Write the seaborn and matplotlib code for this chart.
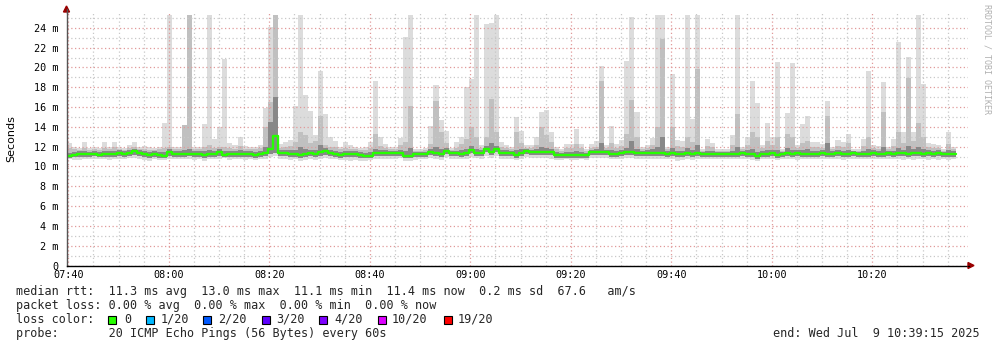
import matplotlib
matplotlib.use("Agg")
import matplotlib.pyplot as plt
import numpy as np
import pandas as pd
import seaborn as sns
from matplotlib.ticker import MultipleLocator, FixedLocator
from matplotlib.patches import Rectangle, Polygon
from matplotlib.lines import Line2D

sns.set_theme(style="white")
plt.rcParams["font.family"] = ["DejaVu Sans Mono", "DejaVu Sans"]

# ---------------- data (milliseconds, one value per minute from 07:40) ----------------
rtt_median = [
    11.1, 11.2, 11.3, 11.3, 11.3, 11.3, 11.2, 11.3, 11.3, 11.3,
    11.4, 11.3, 11.4, 11.6, 11.4, 11.3, 11.2, 11.3, 11.2, 11.1,
    11.5, 11.3, 11.3, 11.3, 11.3, 11.3, 11.3, 11.2, 11.3, 11.3,
    11.5, 11.2, 11.3, 11.3, 11.3, 11.3, 11.3, 11.2, 11.3, 11.4,
    11.8, 13.1, 11.4, 11.4, 11.3, 11.3, 11.2, 11.3, 11.4, 11.3,
    11.5, 11.6, 11.4, 11.3, 11.2, 11.3, 11.3, 11.3, 11.2, 11.1,
    11.1, 11.4, 11.4, 11.4, 11.4, 11.4, 11.4, 11.1, 11.1, 11.3,
    11.3, 11.3, 11.5, 11.4, 11.3, 11.6, 11.4, 11.4, 11.3, 11.4,
    11.7, 11.4, 11.4, 11.8, 11.5, 11.8, 11.4, 11.4, 11.4, 11.2,
    11.4, 11.6, 11.5, 11.5, 11.5, 11.5, 11.5, 11.2, 11.2, 11.2,
    11.2, 11.2, 11.2, 11.2, 11.5, 11.5, 11.5, 11.5, 11.3, 11.3,
    11.4, 11.5, 11.5, 11.4, 11.4, 11.4, 11.4, 11.4, 11.4, 11.3,
    11.4, 11.3, 11.3, 11.4, 11.3, 11.4, 11.3, 11.3, 11.3, 11.3,
    11.3, 11.3, 11.3, 11.3, 11.4, 11.3, 11.3, 11.1, 11.3, 11.3,
    11.4, 11.2, 11.3, 11.4, 11.3, 11.4, 11.3, 11.3, 11.3, 11.3,
    11.4, 11.3, 11.3, 11.4, 11.3, 11.3, 11.4, 11.3, 11.3, 11.3,
    11.4, 11.3, 11.3, 11.4, 11.3, 11.4, 11.4, 11.3, 11.4, 11.4,
    11.3, 11.4, 11.3, 11.4, 11.3, 11.3, 11.3,
]
rtt_max = [
    12.4, 12.0, 11.9, 12.5, 11.9, 12.0, 11.9, 12.5, 12.0, 12.5,
    12.0, 11.9, 12.2, 12.5, 12.0, 12.1, 12.0, 11.9, 12.0, 14.4,
    25.3, 12.0, 12.0, 14.2, 25.3, 12.0, 12.0, 14.3, 25.3, 12.8,
    14.0, 20.9, 12.4, 12.2, 13.0, 12.1, 12.0, 12.0, 12.2, 15.9,
    24.1, 25.3, 12.3, 12.5, 12.7, 16.1, 25.3, 17.2, 15.6, 13.2,
    19.6, 15.3, 13.0, 12.6, 12.0, 12.5, 12.2, 12.0, 11.9, 12.0,
    12.5, 18.6, 13.0, 12.3, 12.0, 12.0, 12.9, 23.1, 25.3, 11.8,
    11.8, 11.9, 14.1, 18.2, 14.7, 13.6, 11.9, 12.5, 13.0, 18.0,
    18.8, 25.3, 12.2, 24.4, 24.5, 25.3, 12.5, 12.2, 12.0, 15.0,
    13.6, 12.2, 12.2, 13.0, 15.5, 15.7, 13.5, 12.0, 11.8, 12.3,
    12.3, 13.8, 12.3, 11.8, 12.3, 12.6, 20.1, 12.2, 14.1, 12.3,
    12.7, 20.7, 25.1, 15.5, 12.0, 12.2, 12.9, 25.3, 25.3, 12.0,
    19.3, 12.7, 12.6, 25.3, 14.8, 25.3, 11.8, 12.8, 12.4, 11.8,
    11.8, 11.8, 13.2, 25.3, 12.0, 13.0, 18.6, 16.4, 12.2, 14.4,
    13.0, 20.6, 11.8, 15.4, 20.5, 12.2, 14.3, 15.1, 12.5, 12.5,
    12.3, 16.6, 12.0, 12.7, 12.5, 13.3, 11.8, 11.8, 12.8, 19.6,
    12.2, 12.1, 18.5, 12.0, 12.8, 22.6, 13.5, 21.1, 13.5, 25.3,
    18.3, 12.4, 12.3, 12.2, 11.8, 13.5, 12.0,
]
rtt_p90 = [
    11.9, 11.8, 11.7, 11.9, 11.7, 11.8, 11.7, 11.9, 11.8, 12.0,
    11.8, 11.7, 11.9, 12.0, 11.8, 11.8, 11.7, 11.7, 11.8, 11.9,
    12.0, 11.8, 11.8, 14.2, 25.3, 11.8, 11.8, 12.0, 12.2, 11.9,
    12.0, 12.0, 11.9, 11.8, 12.1, 11.8, 11.8, 11.8, 11.9, 14.0,
    16.5, 25.3, 11.9, 12.0, 12.1, 12.5, 13.5, 13.2, 12.4, 12.6,
    15.1, 12.2, 12.0, 12.0, 11.8, 11.9, 11.8, 11.8, 11.7, 11.7,
    11.9, 13.3, 12.1, 11.9, 11.8, 11.8, 12.2, 12.5, 16.1, 11.6,
    11.6, 11.7, 12.3, 16.6, 13.5, 12.4, 11.7, 11.9, 12.3, 12.8,
    14.0, 13.0, 11.9, 13.0, 16.8, 13.5, 12.0, 11.9, 11.8, 13.5,
    12.4, 11.9, 11.9, 12.2, 14.0, 13.2, 12.5, 11.8, 11.6, 11.9,
    11.9, 12.3, 11.9, 11.6, 11.9, 12.0, 18.6, 11.9, 12.4, 11.9,
    12.1, 13.3, 16.7, 13.0, 11.8, 11.9, 12.2, 14.0, 22.9, 11.8,
    14.0, 12.1, 12.0, 13.0, 12.5, 19.8, 11.6, 12.1, 12.0, 11.6,
    11.6, 11.6, 12.2, 15.3, 11.8, 12.2, 13.5, 13.0, 11.9, 12.6,
    12.2, 13.0, 11.6, 13.3, 13.0, 11.9, 12.4, 12.6, 12.0, 12.0,
    11.9, 15.1, 11.8, 12.1, 12.0, 12.4, 11.6, 11.6, 12.1, 13.0,
    11.9, 11.8, 15.5, 11.8, 12.1, 13.5, 12.4, 18.9, 12.6, 14.4,
    13.0, 12.0, 11.9, 11.9, 11.6, 12.3, 11.8,
]
rtt_p75 = [
    11.4, 11.5, 11.6, 11.6, 11.5, 11.6, 11.5, 11.6, 11.6, 11.6,
    11.7, 11.6, 11.7, 11.8, 11.7, 11.6, 11.5, 11.6, 11.5, 11.5,
    11.8, 11.6, 11.6, 11.7, 11.8, 11.6, 11.6, 11.6, 11.7, 11.6,
    11.8, 11.6, 11.6, 11.6, 11.7, 11.6, 11.6, 11.5, 11.6, 12.0,
    14.5, 17.0, 11.7, 11.7, 11.7, 11.7, 12.0, 11.8, 11.7, 11.7,
    12.2, 11.9, 11.7, 11.6, 11.5, 11.6, 11.6, 11.6, 11.5, 11.4,
    11.5, 11.8, 11.7, 11.7, 11.6, 11.6, 11.7, 11.6, 11.9, 11.5,
    11.5, 11.5, 11.8, 12.0, 11.8, 11.9, 11.6, 11.6, 11.7, 11.8,
    12.1, 11.8, 11.7, 12.1, 12.4, 12.1, 11.7, 11.7, 11.6, 11.7,
    11.8, 11.8, 11.7, 11.8, 12.0, 11.9, 11.8, 11.5, 11.4, 11.5,
    11.5, 11.6, 11.5, 11.4, 11.7, 11.8, 12.4, 11.7, 11.7, 11.6,
    11.7, 11.9, 12.6, 11.8, 11.6, 11.7, 11.8, 12.0, 13.0, 11.6,
    11.9, 11.6, 11.6, 11.9, 11.7, 12.2, 11.5, 11.6, 11.6, 11.5,
    11.5, 11.5, 11.6, 12.0, 11.6, 11.7, 11.8, 11.5, 11.6, 11.7,
    11.7, 11.7, 11.5, 11.9, 11.7, 11.7, 11.7, 11.8, 11.6, 11.6,
    11.7, 12.4, 11.6, 11.7, 11.6, 11.7, 11.6, 11.5, 11.6, 11.8,
    11.7, 11.6, 12.0, 11.6, 11.6, 11.9, 11.7, 12.1, 11.8, 12.0,
    11.8, 11.7, 11.6, 11.7, 11.5, 11.7, 11.6,
]
rtt_p25 = [
    10.9, 11.0, 11.0, 11.0, 11.0, 11.1, 11.0, 11.0, 11.0, 11.0,
    11.1, 11.0, 11.1, 11.2, 11.1, 11.0, 10.9, 11.0, 10.9, 10.9,
    11.1, 11.0, 11.0, 11.0, 11.1, 11.0, 11.0, 10.9, 11.0, 11.0,
    11.1, 11.0, 11.0, 11.0, 11.0, 11.0, 11.0, 10.9, 11.0, 11.1,
    11.3, 11.4, 11.1, 11.1, 11.0, 11.0, 10.9, 11.0, 11.1, 11.0,
    11.1, 11.2, 11.1, 11.0, 10.9, 11.0, 11.0, 11.0, 10.9, 10.9,
    10.9, 11.1, 11.1, 11.1, 11.1, 11.1, 11.1, 10.9, 10.9, 11.0,
    11.0, 11.0, 11.2, 11.1, 11.0, 11.3, 11.1, 11.1, 11.0, 11.1,
    11.4, 11.1, 11.1, 11.5, 11.2, 11.5, 11.1, 11.1, 11.1, 10.9,
    11.1, 11.3, 11.2, 11.2, 11.2, 11.2, 11.2, 10.9, 10.9, 10.9,
    10.9, 10.9, 10.9, 10.9, 11.2, 11.2, 11.2, 11.2, 11.0, 11.0,
    11.1, 11.2, 11.2, 11.1, 11.1, 11.1, 11.1, 11.1, 11.1, 11.0,
    11.1, 11.0, 11.0, 11.1, 11.0, 11.1, 11.0, 11.0, 11.0, 11.0,
    11.0, 11.0, 11.0, 11.0, 11.1, 11.0, 11.0, 10.8, 11.0, 11.0,
    11.1, 10.9, 11.0, 11.1, 11.0, 11.1, 11.0, 11.0, 11.0, 11.0,
    11.1, 11.0, 11.0, 11.1, 11.0, 11.0, 11.1, 11.0, 11.0, 11.0,
    11.1, 11.0, 11.0, 11.1, 11.0, 11.1, 11.1, 11.0, 11.1, 11.1,
    11.0, 11.1, 11.0, 11.1, 11.0, 11.0, 11.0,
]
rtt_min = [
    10.8, 10.7, 10.7, 10.8, 10.8, 10.8, 10.8, 10.8, 10.7, 10.8,
    10.8, 10.8, 10.9, 10.9, 10.8, 10.7, 10.6, 10.8, 10.7, 10.7,
    10.8, 10.8, 10.8, 10.8, 10.8, 10.7, 10.8, 10.6, 10.8, 10.8,
    10.8, 10.9, 10.7, 10.8, 10.8, 10.7, 10.8, 10.7, 10.8, 10.8,
    11.0, 11.1, 10.8, 10.8, 10.7, 10.8, 10.6, 10.7, 10.8, 10.7,
    10.8, 10.9, 10.8, 10.8, 10.7, 10.7, 10.6, 10.7, 10.6, 10.6,
    10.7, 10.8, 10.8, 10.8, 10.8, 10.8, 10.9, 10.6, 10.6, 10.7,
    10.8, 10.8, 10.9, 10.8, 10.7, 11.0, 10.8, 10.8, 10.8, 10.8,
    11.0, 10.9, 10.8, 11.1, 10.9, 11.1, 10.8, 10.8, 10.8, 10.7,
    10.8, 11.0, 10.9, 10.9, 10.9, 10.9, 10.8, 10.7, 10.7, 10.8,
    10.7, 10.7, 10.8, 10.7, 10.9, 10.9, 10.9, 10.9, 10.8, 10.8,
    10.8, 10.9, 10.9, 10.8, 10.8, 10.8, 10.8, 10.8, 10.8, 10.8,
    10.8, 10.6, 10.7, 10.8, 10.7, 10.8, 10.8, 10.8, 10.8, 10.8,
    10.8, 10.8, 10.8, 10.8, 10.8, 10.8, 10.7, 10.6, 10.8, 10.8,
    10.8, 10.7, 10.8, 10.8, 10.8, 10.7, 10.8, 10.8, 10.8, 10.8,
    10.8, 10.8, 10.8, 10.8, 10.7, 10.8, 10.8, 10.8, 10.8, 10.8,
    10.8, 10.8, 10.8, 10.8, 10.8, 10.8, 10.7, 10.8, 10.7, 10.8,
    10.8, 10.7, 10.8, 10.7, 10.8, 10.7, 10.8,
]

x_tick_minutes = [0, 20, 40, 60, 80, 100, 120, 140, 160]
x_tick_labels = ["07:40", "08:00", "08:20", "08:40", "09:00", "09:20", "09:40", "10:00", "10:20"]
y_ticks = [0, 2, 4, 6, 8, 10, 12, 14, 16, 18, 20, 22, 24]
y_tick_labels = ["0", "2 m", "4 m", "6 m", "8 m", "10 m", "12 m", "14 m", "16 m",
                 "18 m", "20 m", "22 m", "24 m"]

loss_labels = ["0", "1/20", "2/20", "3/20", "4/20", "10/20", "19/20"]
loss_colors = ["#26ff00", "#00b8ff", "#0059ff", "#5e00ff", "#7e00ff", "#dd00ff", "#ff0000"]

line_rtt = "median rtt:  11.3 ms avg  13.0 ms max  11.1 ms min  11.4 ms now  0.2 ms sd  67.6   am/s"
line_loss = "packet loss: 0.00 % avg  0.00 % max  0.00 % min  0.00 % now"
line_color = "loss color:"
line_probe = "probe:       20 ICMP Echo Pings (56 Bytes) every 60s"
line_end = "end: Wed Jul  9 10:39:15 2025"
y_title = "Seconds"
watermark = "RRDTOOL / TOBI OETIKER"

# ---------------- figure ----------------
W, H = 997, 347
fig = plt.figure(figsize=(W / 100, H / 100), dpi=100)
fig.patch.set_facecolor("white")


def fx(px):
    return px / W


def fy(py):
    return 1 - py / H


ax = fig.add_axes([fx(66.5), fy(265.5), fx(968) - fx(66.5), fy(13) - fy(265.5)])
ax.set_facecolor("white")

n = len(rtt_median)
shift = -0.32
df = pd.DataFrame({
    "t": np.arange(n) + shift,
    "median": rtt_median, "max": rtt_max, "p90": rtt_p90,
    "p75": rtt_p75, "p25": rtt_p25, "min": rtt_min,
})
# extended edges for step drawing
ext = pd.concat([df, df.iloc[[-1]].assign(t=n + shift)], ignore_index=True)

ax.fill_between(ext["t"], ext["min"], ext["max"], step="post", color="#dcdcdc", linewidth=0, zorder=1)
ax.fill_between(ext["t"], ext["p25"], ext["p90"], step="post", color="#c0c0c0", linewidth=0, zorder=2)
ax.fill_between(ext["t"], ext["p25"], ext["p75"], step="post", color="#888888", linewidth=0, zorder=3)

sns.lineplot(data=ext, x="t", y="median", ax=ax, drawstyle="steps-post", color="#26ff00",
             linewidth=1.7, estimator=None, sort=False, legend=False, zorder=5)

ax.set_xlim(-0.35, 179.05)
ax.set_ylim(0, 25.5)

ax.xaxis.set_major_locator(FixedLocator(x_tick_minutes))
ax.set_xticklabels(x_tick_labels)
ax.xaxis.set_minor_locator(MultipleLocator(5))
ax.yaxis.set_major_locator(FixedLocator(y_ticks))
ax.set_yticklabels(y_tick_labels)
ax.yaxis.set_minor_locator(MultipleLocator(1))

ax.grid(which="minor", color="#c8c8c8", linestyle=(0, (1, 2)), linewidth=0.9, zorder=6)
ax.grid(which="major", color="#e09a9a", linestyle=(0, (1, 2)), linewidth=0.9, zorder=6)
ax.set_axisbelow(False)

ax.tick_params(axis="both", which="both", labelsize=7.3, colors="#000000", length=0, pad=3)
ax.tick_params(axis="y", pad=6)
for lab in ax.get_xticklabels() + ax.get_yticklabels():
    lab.set_family("DejaVu Sans Mono")

ax.set_xlabel("")
ax.set_ylabel("")
for s in ["top", "right"]:
    ax.spines[s].set_visible(False)
ax.spines["left"].set_color("#555555")
ax.spines["bottom"].set_color("#000000")
ax.spines["left"].set_linewidth(1.0)
ax.spines["bottom"].set_linewidth(1.0)
ax.spines["left"].set_zorder(7)
ax.spines["bottom"].set_zorder(7)

# axis extensions with arrows
fig.add_artist(Line2D([fx(66.5), fx(66.5)], [fy(13), fy(9)], color="#555555", lw=1.0))
fig.add_artist(Polygon([[fx(63.5), fy(12)], [fx(69.5), fy(12)], [fx(66.5), fy(6)]],
                       closed=True, color="#990000", transform=fig.transFigure))
fig.add_artist(Line2D([fx(968), fx(969)], [fy(265.5), fy(265.5)], color="#000000", lw=1.0))
fig.add_artist(Polygon([[fx(968), fy(262.5)], [fx(968), fy(268.5)], [fx(974), fy(265.5)]],
                       closed=True, color="#990000", transform=fig.transFigure))

# y title and watermark
fig.text(fx(11), fy(139), y_title, rotation=90, ha="center", va="center",
         fontsize=8, family="DejaVu Sans", color="#000000")
fig.text(fx(987), fy(4), watermark, rotation=270, ha="center", va="top",
         fontsize=6, family="DejaVu Sans Mono", color="#b0b0b0")

# legend block
fs = 8.5
fig.text(fx(16), fy(291.7), line_rtt, ha="left", va="center", fontsize=fs, family="DejaVu Sans Mono")
fig.text(fx(16), fy(305.7), line_loss, ha="left", va="center", fontsize=fs, family="DejaVu Sans Mono")
fig.text(fx(16), fy(319.3), line_color, ha="left", va="center", fontsize=fs, family="DejaVu Sans Mono")
fig.text(fx(16), fy(333.3), line_probe, ha="left", va="center", fontsize=fs, family="DejaVu Sans Mono")
fig.text(fx(980), fy(333.3), line_end, ha="right", va="center", fontsize=fs, family="DejaVu Sans Mono")

box_x = [108, 146, 203, 261.5, 319, 377.5, 444]
text_x = [124, 161, 218, 276, 334, 392, 458]
for bx, tx, lab, col in zip(box_x, text_x, loss_labels, loss_colors):
    fig.add_artist(Rectangle((fx(bx), fy(323.5)), fx(8), 8 / H, transform=fig.transFigure,
                             facecolor=col, edgecolor="#000000", linewidth=0.8))
    fig.text(fx(tx), fy(319.3), lab, ha="left", va="center", fontsize=fs, family="DejaVu Sans Mono")

fig.savefig("out.png", dpi=100, facecolor="white")
